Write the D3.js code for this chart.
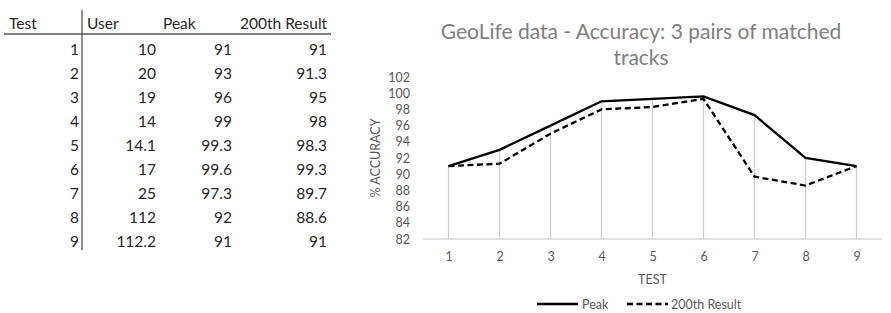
<!DOCTYPE html>
<html>
<head>
<meta charset="utf-8">
<script src="https://cdn.jsdelivr.net/npm/d3@7"></script>
<style>
  body { margin: 0; background: #fff; }
  svg { display: block; font-family: Lato, 'Open Sans', sans-serif; }
</style>
</head>
<body>
<div id="chart"></div>
<script>
'use strict';

// table + chart data
const tests = [1, 2, 3, 4, 5, 6, 7, 8, 9];
const users = ['10', '20', '19', '14', '14.1', '17', '25', '112', '112.2'];
const peak = [91, 93, 96, 99, 99.3, 99.6, 97.3, 92, 91];
const result200 = [91, 91.3, 95, 98, 98.3, 99.3, 89.7, 88.6, 91];
const headers = ['Test', 'User', 'Peak', '200th Result'];
const yTicks = [82, 84, 86, 88, 90, 92, 94, 96, 98, 100, 102];

const width = 891;
const height = 313;

const svg = d3.select('#chart')
  .append('svg')
    .attr('width', width)
    .attr('height', height);

// ---- the table on the left ----
const table = svg.append('g');
const textCol = '#262626';
const rowY = d3.scaleLinear().domain([1, 9]).range([49, 241]);

// header texts
const headerX = [9, 87, 163, 240];
table.selectAll('.hdr')
  .data(headers)
  .join('text')
    .attr('x', (d, i) => headerX[i])
    .attr('y', 29)
    .attr('font-size', 15.5)
    .attr('fill', textCol)
    .text(d => d);

table.append('line')
  .attr('x1', 4).attr('x2', 331)
  .attr('y1', 34).attr('y2', 34)
  .attr('stroke', '#555').attr('stroke-width', 1.3);
table.append('line')
  .attr('x1', 82).attr('x2', 82)
  .attr('y1', 10).attr('y2', 250)
  .attr('stroke', '#555').attr('stroke-width', 1.3);

// the right aligned columns
const cols = [
  { x: 79, vals: tests.map(String) },
  { x: 156, vals: users },
  { x: 232, vals: peak.map(String) },
  { x: 327, vals: result200.map(String) }
];
cols.forEach(c => {
  table.append('g').selectAll('text')
    .data(c.vals)
    .join('text')
      .attr('x', c.x)
      .attr('y', (d, i) => rowY(tests[i]) + 5.5)
      .attr('text-anchor', 'end')
      .attr('font-size', 15.5)
      .attr('fill', textCol)
      .text(d => d);
});

// ---- the line chart on the right ----
const plot = { left: 423, right: 882, top: 77, bottom: 239 };

const x = d3.scalePoint()
  .domain(tests)
  .range([plot.left, plot.right])
  .padding(0.5);

const y = d3.scaleLinear()
  .domain([82, 102])
  .range([plot.bottom, plot.top]);

const grey = '#595959';
const midX = (x(1) + x(9)) / 2;

// title
svg.append('text')
  .attr('x', 641).attr('y', 39)
  .attr('text-anchor', 'middle')
  .attr('font-size', 21)
  .attr('fill', '#808080')
  .text('GeoLife data - Accuracy: 3 pairs of matched');
svg.append('text')
  .attr('x', 641).attr('y', 65)
  .attr('text-anchor', 'middle')
  .attr('font-size', 21)
  .attr('fill', '#808080')
  .text('tracks');

// drop lines from the top point to the axis
svg.append('g').selectAll('line')
  .data(tests)
  .join('line')
    .attr('x1', d => x(d)).attr('x2', d => x(d))
    .attr('y1', (d, i) => y(Math.max(peak[i], result200[i])))
    .attr('y2', y(82))
    .attr('stroke', '#d0d0d0')
    .attr('stroke-width', 1.3);

// x axis
const xAxis = svg.append('g')
  .attr('transform', `translate(0,${plot.bottom})`)
  .call(d3.axisBottom(x).tickSize(0).tickPadding(13));
xAxis.select('.domain').attr('d', `M${plot.left},0H${plot.right}`).attr('stroke', '#d9d9d9').attr('stroke-width', 1.3);
xAxis.selectAll('text').attr('font-size', 12.5).attr('fill', grey).attr('font-family', 'Lato, sans-serif');

// y axis
const yAxis = svg.append('g')
  .attr('transform', `translate(${plot.left - 13},0)`)
  .call(d3.axisLeft(y).tickValues(yTicks).tickSize(0).tickPadding(0));
yAxis.select('.domain').remove();
yAxis.selectAll('text').attr('font-size', 12.5).attr('fill', grey).attr('font-family', 'Lato, sans-serif');

// axis titles
svg.append('text')
  .attr('x', midX).attr('y', 284)
  .attr('text-anchor', 'middle')
  .attr('font-size', 12.5)
  .attr('fill', grey)
  .text('TEST');
svg.append('text')
  .attr('transform', `translate(380,${(plot.top + plot.bottom) / 2}) rotate(-90)`)
  .attr('text-anchor', 'middle')
  .attr('font-size', 12.5)
  .attr('fill', grey)
  .text('% ACCURACY');

// the two series
const line = d3.line()
  .x((d, i) => x(tests[i]))
  .y(d => y(d));

svg.append('path')
  .datum(result200)
  .attr('d', line)
  .attr('fill', 'none')
  .attr('stroke', '#000')
  .attr('stroke-width', 2.3)
  .attr('stroke-dasharray', '6,3.5');

svg.append('path')
  .datum(peak)
  .attr('d', line)
  .attr('fill', 'none')
  .attr('stroke', '#000')
  .attr('stroke-width', 2.3);

// legend
const legend = svg.append('g').attr('transform', 'translate(0,304)');
legend.append('line')
  .attr('x1', 537).attr('x2', 578)
  .attr('stroke', '#000').attr('stroke-width', 2.3);
legend.append('text')
  .attr('x', 582).attr('y', 4.5)
  .attr('font-size', 12.5).attr('fill', grey)
  .text('Peak');
legend.append('line')
  .attr('x1', 627).attr('x2', 668)
  .attr('stroke', '#000').attr('stroke-width', 2.3)
  .attr('stroke-dasharray', '6,3.5');
legend.append('text')
  .attr('x', 671).attr('y', 4.5)
  .attr('font-size', 12.5).attr('fill', grey)
  .text('200th Result');
</script>
</body>
</html>
